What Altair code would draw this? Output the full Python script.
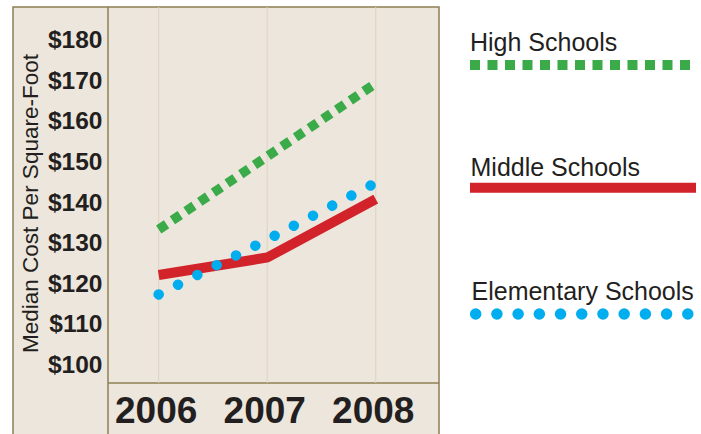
import altair as alt
import pandas as pd

# Median construction cost per square foot, by school level
years = [2006, 2007, 2008]
high_schools = [133.5, 151.5, 169.5]
middle_schools = [122.3, 126.6, 141.0]
elementary_schools = [117.5, 131.0, 145.0]
y_ticks = [100, 110, 120, 130, 140, 150, 160, 170, 180]

FONT = "Liberation Sans"
INK = "#231f20"
PANEL = "#ede6dc"
FRAME = "#8c7f55"
GRID = "#ddd3c0"
GREEN = "#3bab4a"
RED = "#d2222a"
BLUE = "#00aeef"

W, H = 331, 376

rows = []
for name, vals in [("High Schools", high_schools),
                   ("Middle Schools", middle_schools),
                   ("Elementary Schools", elementary_schools)]:
    for yr, v in zip(years, vals):
        rows.append({"year": yr, "value": v, "series": name})
df = pd.DataFrame(rows)
grid_df = pd.DataFrame({"year": years})
one = pd.DataFrame({"k": [0]})

x_scale = alt.Scale(domain=[2005.533, 2008.583], nice=False, zero=False)
y_scale = alt.Scale(domain=[95.7, 188.3], nice=False, zero=False)

# axes sit above the panel fill (zindex=1) so their labels stay visible
x_axis = alt.Axis(
    values=years, format="d", title=None, zindex=1,
    labelFont=FONT, labelFontSize=37, labelFontWeight="bold", labelColor=INK,
    labelPadding=10, labelOffset=-3, ticks=False, tickSize=0,
    domain=False, grid=False,
)
y_axis = alt.Axis(
    values=y_ticks, labelExpr="'$' + datum.value", zindex=1,
    labelFont=FONT, labelFontSize=24.5, labelFontWeight="bold", labelColor=INK,
    labelPadding=6, ticks=False, tickSize=0, domain=False, grid=False,
    title="Median Cost Per Square-Foot", titleFont=FONT, titleFontSize=22.5,
    titleFontWeight="normal", titleColor=INK, titleAngle=-90,
    titleX=-71, titleY=196, titleAlign="center", titleBaseline="alphabetic",
)

# beige panel with its frame, covering the plot and both axis bands
panel = alt.Chart(one).mark_rect(fill=PANEL, stroke=FRAME, strokeWidth=1.5).encode(
    x=alt.value(-95), x2=alt.value(W), y=alt.value(0), y2=alt.value(H + 80)
)
vline = alt.Chart(one).mark_rule(color=FRAME, strokeWidth=1.5).encode(
    x=alt.value(0), y=alt.value(0), y2=alt.value(H + 80)
)
hline = alt.Chart(one).mark_rule(color=FRAME, strokeWidth=1.5).encode(
    x=alt.value(0), x2=alt.value(W), y=alt.value(H)
)

grid = alt.Chart(grid_df).mark_rule(color=GRID, strokeWidth=1).encode(
    x=alt.X("year:Q", scale=x_scale, axis=x_axis)
)

def series_line(name, **style):
    return alt.Chart(df).transform_filter(alt.datum.series == name).mark_line(**style).encode(
        x=alt.X("year:Q", scale=x_scale, axis=x_axis),
        y=alt.Y("value:Q", scale=y_scale, axis=y_axis),
    )

high_line = series_line("High Schools", color=GREEN, strokeWidth=9.5,
                        strokeDash=[9.5, 7], strokeCap="butt")
middle_line = series_line("Middle Schools", color=RED, strokeWidth=10,
                          strokeJoin="miter")
elem_line = series_line("Elementary Schools", color=BLUE, strokeWidth=10.5,
                        strokeDash=[0.01, 21.65], strokeCap="round")

# legend, stacked to the right of the panel
def legend_text(label, x, y):
    return alt.Chart(one).mark_text(
        text=label, font=FONT, fontSize=25, color=INK, align="left",
        baseline="alphabetic"
    ).encode(x=alt.value(x), y=alt.value(y))

leg = [
    legend_text("High Schools", 362, 44),
    alt.Chart(one).mark_rule(color=GREEN, strokeWidth=10, strokeDash=[10, 7.5],
                             strokeCap="butt").encode(
        x=alt.value(362), x2=alt.value(582), y=alt.value(58)),
    legend_text("Middle Schools", 362.5, 169),
    alt.Chart(one).mark_rule(color=RED, strokeWidth=10).encode(
        x=alt.value(362), x2=alt.value(588), y=alt.value(180.7)),
    legend_text("Elementary Schools", 363.5, 293),
    alt.Chart(one).mark_rule(color=BLUE, strokeWidth=11.5, strokeDash=[0.01, 21.2],
                             strokeCap="round").encode(
        x=alt.value(367.7), x2=alt.value(581), y=alt.value(307)),
]

chart = alt.layer(
    panel, vline, hline, grid, high_line, middle_line, elem_line, *leg
).properties(
    width=W, height=H,
    autosize=alt.AutoSizeParams(type="none"),
    padding={"left": 108, "top": 7, "right": 262, "bottom": 51},
    background="white",
).configure_view(stroke=None)

chart.save("out.html", embed_options={"renderer": "svg", "actions": False})
